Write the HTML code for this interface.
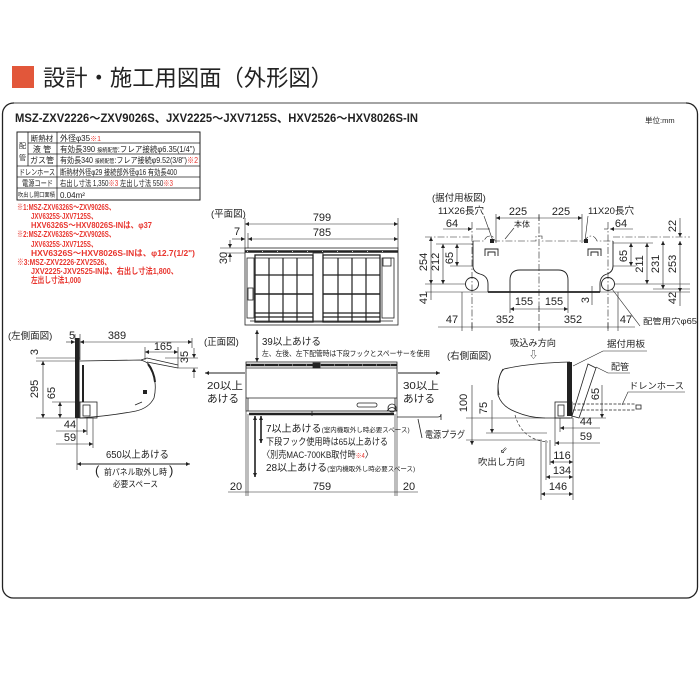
<!DOCTYPE html>
<html><head><meta charset="utf-8">
<style>
html,body{margin:0;padding:0;background:#fff;}
svg{display:block;}
text{font-family:"Liberation Sans","Noto Sans CJK JP",sans-serif;fill:#222;}
.n{font-family:"Liberation Sans Narrow","Liberation Sans","Noto Sans CJK JP",sans-serif;font-size:11px;}
.r{fill:#e8352e;}
</style></head><body>
<svg width="700" height="700" viewBox="0 0 700 700" xmlns="http://www.w3.org/2000/svg">
<defs>
<marker id="a" viewBox="0 0 10 10" refX="10" refY="5" markerUnits="userSpaceOnUse" markerWidth="5" markerHeight="4" orient="auto-start-reverse"><path d="M0 0 L10 5 L0 10z" fill="#222"/></marker>
</defs>

<!-- Title -->
<rect x="12" y="66" width="22" height="22" fill="#e2573a"/>
<text x="43" y="86" font-size="22.5" textLength="290" lengthAdjust="spacingAndGlyphs">設計・施工用図面（外形図）</text>

<!-- Frame -->
<rect x="2.5" y="103" width="695" height="495" rx="11" fill="none" stroke="#222" stroke-width="1.3"/>
<line x1="14" y1="103" x2="686" y2="103" stroke="#999" stroke-width="1.6"/>

<text x="15" y="122" font-size="11.5" font-weight="bold" textLength="403" lengthAdjust="spacingAndGlyphs">MSZ-ZXV2226～ZXV9026S、JXV2225～JXV7125S、HXV2526～HXV8026S-IN</text>
<text x="645" y="123" font-size="7.5" fill="#666">単位:mm</text>

<!-- Spec table -->
<g stroke="#222" fill="none" stroke-width="0.8">
<rect x="17" y="132" width="183" height="68" stroke-width="1"/>
<line x1="28" y1="132" x2="28" y2="166"/>
<line x1="57" y1="132" x2="57" y2="200"/>
<line x1="28" y1="143" x2="200" y2="143"/>
<line x1="28" y1="154" x2="200" y2="154"/>
<line x1="17" y1="166" x2="200" y2="166"/>
<line x1="17" y1="177" x2="200" y2="177"/>
<line x1="17" y1="188" x2="200" y2="188"/>
</g>
<g font-size="8">
<text x="19" y="148" font-size="7">配</text>
<text x="19" y="160" font-size="7">管</text>
<text x="42" y="141" text-anchor="middle" font-size="7.5">断熱材</text>
<text x="42" y="152" text-anchor="middle">液 管</text>
<text x="42" y="163" text-anchor="middle">ガス管</text>
<text x="19" y="175" textLength="36" lengthAdjust="spacingAndGlyphs">ドレンホース</text>
<text x="22" y="186" textLength="31" lengthAdjust="spacingAndGlyphs">電源コード</text>
<text x="18" y="197" font-size="6" textLength="37" lengthAdjust="spacingAndGlyphs">吹出し開口面積</text>
<text x="60" y="141">外径φ35<tspan class="r" font-size="7">※1</tspan></text>
<text x="60" y="152" textLength="135" lengthAdjust="spacingAndGlyphs">有効長390 <tspan font-size="5.5">接続配管</tspan>:フレア接続φ6.35(1/4")</text>
<text x="60" y="163" textLength="138" lengthAdjust="spacingAndGlyphs">有効長340 <tspan font-size="5.5">接続配管</tspan>:フレア接続φ9.52(3/8")<tspan class="r">※2</tspan></text>
<text x="60" y="175" textLength="117" lengthAdjust="spacingAndGlyphs">断熱材外径φ29 接続部外径φ16 有効長400</text>
<text x="60" y="186" textLength="113" lengthAdjust="spacingAndGlyphs">右出し寸法 1,350<tspan class="r">※3</tspan> 左出し寸法 550<tspan class="r">※3</tspan></text>
<text x="60" y="198">0.04m²</text>
</g>
<!-- Notes -->
<g font-size="8.5" font-weight="bold" class="r">
<text class="r" x="17" y="210" textLength="98" lengthAdjust="spacingAndGlyphs">※1:MSZ-ZXV6326S～ZXV9026S、</text>
<text class="r" x="31" y="219" textLength="66" lengthAdjust="spacingAndGlyphs">JXV6325S·JXV7125S、</text>
<text class="r" x="31" y="228" textLength="121" lengthAdjust="spacingAndGlyphs">HXV6326S～HXV8026S-INは、φ37</text>
<text class="r" x="17" y="237" textLength="98" lengthAdjust="spacingAndGlyphs">※2:MSZ-ZXV6326S～ZXV9026S、</text>
<text class="r" x="31" y="247" textLength="66" lengthAdjust="spacingAndGlyphs">JXV6325S·JXV7125S、</text>
<text class="r" x="31" y="256" textLength="164" lengthAdjust="spacingAndGlyphs">HXV6326S～HXV8026S-INは、φ12.7(1/2")</text>
<text class="r" x="17" y="265" textLength="94" lengthAdjust="spacingAndGlyphs">※3:MSZ-ZXV2226·ZXV2526、</text>
<text class="r" x="31" y="274" textLength="147" lengthAdjust="spacingAndGlyphs">JXV2225·JXV2525-INは、右出し寸法1,800、</text>
<text class="r" x="31" y="283" textLength="50" lengthAdjust="spacingAndGlyphs">左出し寸法1,000</text>
</g>

<!-- ================= Plan view ================= -->
<text x="211" y="217" font-size="9.5">(平面図)</text>
<g stroke="#222" stroke-width="0.6" fill="none">
<line x1="245" y1="218" x2="245" y2="248"/>
<line x1="398" y1="218" x2="398" y2="248"/>
<line x1="245" y1="224" x2="398" y2="224" marker-start="url(#a)" marker-end="url(#a)"/>
<line x1="248" y1="233" x2="248" y2="248"/>
<line x1="248" y1="239" x2="398" y2="239" marker-start="url(#a)" marker-end="url(#a)"/>
<line x1="232" y1="239" x2="245" y2="239" marker-end="url(#a)"/>
<line x1="220" y1="248" x2="245" y2="248"/>
<line x1="220" y1="253" x2="245" y2="253"/>
<line x1="230" y1="240" x2="230" y2="248" marker-end="url(#a)"/>
<line x1="230" y1="262" x2="230" y2="253" marker-end="url(#a)"/>
</g>
<text class="n" x="322" y="221" text-anchor="middle" font-size="12">799</text>
<text class="n" x="322" y="236" text-anchor="middle" font-size="12">785</text>
<text class="n" x="237" y="235" text-anchor="middle" font-size="12">7</text>
<text class="n" transform="translate(227,258) rotate(-90)" text-anchor="middle" font-size="12">30</text>
<g stroke="#222" fill="none" stroke-width="0.8">
<rect x="245" y="248" width="153" height="77"/>
<line x1="245" y1="251.5" x2="398" y2="251.5" stroke-width="2.5"/>
<line x1="247" y1="251.5" x2="396" y2="251.5" stroke="#fff" stroke-width="0.8" stroke-dasharray="1 14"/>
<line x1="250" y1="321" x2="393" y2="321"/>
<rect x="247" y="258" width="7" height="60"/>
<rect x="248" y="288" width="5" height="12"/>
<rect x="255" y="255" width="58" height="67" stroke-width="1.3"/>
<rect x="323" y="255" width="57" height="67" stroke-width="1.3"/>
<rect x="313" y="253" width="10" height="69"/>
<rect x="382" y="258" width="12" height="60"/>
<rect x="383" y="258" width="8" height="8"/>
<g stroke-width="1.2">
<line x1="269" y1="258" x2="269" y2="322"/><line x1="283" y1="258" x2="283" y2="322"/><line x1="297" y1="258" x2="297" y2="322"/>
<line x1="338" y1="258" x2="338" y2="322"/><line x1="352" y1="258" x2="352" y2="322"/><line x1="366" y1="258" x2="366" y2="322"/>
<line x1="255" y1="275" x2="313" y2="275"/><line x1="323" y1="275" x2="380" y2="275"/>
<line x1="255" y1="294" x2="313" y2="294" stroke-width="1.6"/><line x1="323" y1="294" x2="380" y2="294" stroke-width="1.6"/>
<line x1="255" y1="313" x2="313" y2="313"/><line x1="323" y1="313" x2="380" y2="313"/>
<line x1="255" y1="317" x2="313" y2="317"/><line x1="323" y1="317" x2="380" y2="317"/>
</g>
<line x1="255" y1="258" x2="313" y2="258"/><line x1="323" y1="258" x2="380" y2="258"/>
</g>

<!-- ================= Mounting plate ================= -->
<text x="432" y="201" font-size="9.5">(据付用板図)</text>
<text x="438" y="214" font-size="9.5" textLength="46" lengthAdjust="spacingAndGlyphs">11X26長穴</text>
<text x="588" y="214" font-size="9.5" textLength="46" lengthAdjust="spacingAndGlyphs">11X20長穴</text>
<text class="n" x="518" y="215" text-anchor="middle" font-size="12">225</text>
<text class="n" x="561" y="215" text-anchor="middle" font-size="12">225</text>
<text class="n" x="452" y="227" text-anchor="middle" font-size="12">64</text>
<text class="n" x="621" y="227" text-anchor="middle" font-size="12">64</text>
<text x="514" y="227" font-size="8">本体</text>
<g stroke="#222" stroke-width="0.6" fill="none">
<g stroke-dasharray="7 2 1.5 2">
<line x1="539" y1="214" x2="539" y2="330"/>
<line x1="472" y1="222" x2="472" y2="330"/>
<line x1="608" y1="222" x2="608" y2="330"/>
<line x1="425" y1="237" x2="473" y2="237"/>
<line x1="613" y1="237" x2="690" y2="237"/>
<path d="M473 241 L484 241 Q486 236 490 236 Q494 236 495 241 L536 241 L536 236 L542 236 L542 241 L585 241 Q587 236 591 236 Q595 236 597 241 L613 241"/>
</g>
<line x1="496" y1="214" x2="496" y2="243"/>
<line x1="582" y1="214" x2="582" y2="243"/>
<line x1="496" y1="218" x2="582" y2="218" marker-start="url(#a)" marker-end="url(#a)"/>
<line x1="539" y1="215" x2="539" y2="221"/>
<line x1="443" y1="229" x2="472" y2="229" marker-end="url(#a)"/>
<line x1="476" y1="229" x2="490" y2="229"/>
<line x1="604" y1="229" x2="608" y2="229"/>
<line x1="633" y1="229" x2="610" y2="229" marker-end="url(#a)"/>
<line x1="484" y1="216" x2="493" y2="241"/>
<line x1="588" y1="216" x2="585" y2="241"/>
<line x1="514" y1="228" x2="505" y2="239"/>
<line x1="436" y1="244" x2="473" y2="244"/>
<line x1="613" y1="243" x2="653" y2="243"/>
<line x1="450" y1="266" x2="473" y2="266"/>
<line x1="613" y1="266" x2="636" y2="266"/>
<line x1="425" y1="284" x2="466" y2="284"/>
<line x1="614" y1="284" x2="690" y2="284"/>
<line x1="425" y1="292" x2="488" y2="292"/>
<line x1="600" y1="292" x2="690" y2="292"/>
<line x1="653" y1="289" x2="690" y2="289"/>
<line x1="431" y1="237" x2="431" y2="284" marker-start="url(#a)" marker-end="url(#a)"/>
<line x1="443" y1="244" x2="443" y2="284" marker-start="url(#a)" marker-end="url(#a)"/>
<line x1="457" y1="244" x2="457" y2="266" marker-start="url(#a)" marker-end="url(#a)"/>
<line x1="431" y1="284" x2="431" y2="300"/>
<line x1="631" y1="243" x2="631" y2="266" marker-start="url(#a)" marker-end="url(#a)"/>
<line x1="647" y1="243" x2="647" y2="284" marker-start="url(#a)" marker-end="url(#a)"/>
<line x1="663" y1="241" x2="663" y2="289" marker-start="url(#a)" marker-end="url(#a)"/>
<line x1="680" y1="241" x2="680" y2="292" marker-start="url(#a)" marker-end="url(#a)"/>
<line x1="680" y1="218" x2="680" y2="237" marker-end="url(#a)"/>
<line x1="680" y1="292" x2="680" y2="306"/>
<line x1="592" y1="286" x2="592" y2="305"/>
<line x1="510" y1="292" x2="510" y2="313"/>
<line x1="568" y1="292" x2="568" y2="313"/>
<line x1="510" y1="309" x2="568" y2="309" marker-start="url(#a)" marker-end="url(#a)"/>
<line x1="539" y1="306" x2="539" y2="312"/>
<line x1="462" y1="292" x2="462" y2="331"/>
<line x1="618" y1="292" x2="618" y2="331"/>
<line x1="438" y1="327" x2="635" y2="327"/>
<line x1="472" y1="323" x2="472" y2="331"/>
<line x1="539" y1="323" x2="539" y2="331"/>
<line x1="608" y1="323" x2="608" y2="331"/>
<line x1="612" y1="289" x2="640" y2="326"/>
</g>
<g stroke="#222" fill="none" stroke-width="0.9">
<path d="M473 241 L473 266 Q473 272 480 274 Q488 276 488 284 L488 292 M600 292 L600 284 Q600 276 607 274 Q613 272 613 266 L613 241"/>
<path d="M510 292 L510 280 Q510 270 520 270 L558 270 Q568 270 568 280 L568 292"/>
<path d="M485 256 L485 249 L498 249 L498 256 M488 256 L488 252 L495 252 L495 256"/>
<path d="M588 256 L588 249 L601 249 L601 256 M591 256 L591 252 L598 252 L598 256"/>
<circle cx="472" cy="284" r="6.5"/>
<circle cx="608" cy="284" r="6.5"/>
</g>
<line x1="488" y1="292" x2="600" y2="292" stroke="#222" stroke-width="1.8"/>
<rect x="490" y="239" width="4" height="4" fill="#222"/>
<rect x="584" y="239" width="4" height="4" fill="#222"/>
<g class="n" font-size="12" text-anchor="middle">
<text class="n" transform="translate(427,262) rotate(-90)" text-anchor="middle">254</text>
<text class="n" transform="translate(439,262) rotate(-90)" text-anchor="middle">212</text>
<text class="n" transform="translate(453,258) rotate(-90)" text-anchor="middle">65</text>
<text class="n" transform="translate(427,298) rotate(-90)" text-anchor="middle">41</text>
<text class="n" transform="translate(627,256) rotate(-90)" text-anchor="middle">65</text>
<text class="n" transform="translate(643,264) rotate(-90)" text-anchor="middle">211</text>
<text class="n" transform="translate(659,264) rotate(-90)" text-anchor="middle">231</text>
<text class="n" transform="translate(676,264) rotate(-90)" text-anchor="middle">253</text>
<text class="n" transform="translate(676,226) rotate(-90)" text-anchor="middle">22</text>
<text class="n" transform="translate(676,298) rotate(-90)" text-anchor="middle">42</text>
<text class="n" transform="translate(589,300) rotate(-90)" text-anchor="middle">3</text>
<text class="n" x="524" y="305" text-anchor="middle">155</text>
<text class="n" x="554" y="305" text-anchor="middle">155</text>
<text class="n" x="452" y="323" text-anchor="middle">47</text>
<text class="n" x="505" y="323" text-anchor="middle">352</text>
<text class="n" x="573" y="323" text-anchor="middle">352</text>
<text class="n" x="626" y="323" text-anchor="middle">47</text>
</g>
<text x="643" y="324" font-size="8" textLength="54" lengthAdjust="spacingAndGlyphs">配管用穴φ65</text>

<!-- ================= Left side view ================= -->
<text x="8" y="339" font-size="9.5">(左側面図)</text>
<g class="n" font-size="12">
<text class="n" x="72" y="339" text-anchor="middle">5</text>
<text class="n" x="117" y="339" text-anchor="middle">389</text>
<text class="n" x="163" y="350" text-anchor="middle">165</text>
<text class="n" transform="translate(188,357) rotate(-90)" text-anchor="middle">35</text>
<text class="n" transform="translate(38,352) rotate(-90)" text-anchor="middle">3</text>
<text class="n" transform="translate(38,389) rotate(-90)" text-anchor="middle">295</text>
<text class="n" transform="translate(55,393) rotate(-90)" text-anchor="middle">65</text>
<text class="n" x="70" y="428" text-anchor="middle">44</text>
<text class="n" x="70" y="441" text-anchor="middle">59</text>
</g>
<g stroke="#222" stroke-width="0.6" fill="none">
<line x1="75" y1="334" x2="75" y2="340"/>
<line x1="80" y1="334" x2="80" y2="360"/>
<line x1="66" y1="342" x2="75" y2="342" marker-end="url(#a)"/>
<line x1="80" y1="342" x2="192" y2="342" marker-start="url(#a)" marker-end="url(#a)"/>
<line x1="192" y1="338" x2="192" y2="348"/>
<line x1="145" y1="347" x2="145" y2="360"/>
<line x1="178" y1="347" x2="178" y2="368"/>
<line x1="145" y1="352" x2="178" y2="352" marker-start="url(#a)" marker-end="url(#a)"/>
<line x1="165" y1="358" x2="198" y2="358"/>
<line x1="178" y1="368" x2="198" y2="368"/>
<line x1="194" y1="348" x2="194" y2="358" marker-end="url(#a)"/>
<line x1="194" y1="378" x2="194" y2="368" marker-end="url(#a)"/>
<line x1="36" y1="358" x2="80" y2="358"/>
<line x1="36" y1="361" x2="80" y2="361"/>
<line x1="43" y1="361" x2="43" y2="418" marker-start="url(#a)" marker-end="url(#a)"/>
<line x1="36" y1="418" x2="80" y2="418"/>
<line x1="52" y1="402" x2="80" y2="402"/>
<line x1="60" y1="402" x2="60" y2="418" marker-start="url(#a)" marker-end="url(#a)"/>
<line x1="56" y1="431" x2="87" y2="431" marker-end="url(#a)"/>
<line x1="56" y1="444" x2="93" y2="444" marker-end="url(#a)"/>
<line x1="87" y1="418" x2="87" y2="435"/>
<line x1="93" y1="418" x2="93" y2="448"/>
<line x1="77" y1="418" x2="77" y2="470"/>
<line x1="77" y1="464" x2="190" y2="464" stroke-width="0.9" marker-start="url(#a)" marker-end="url(#a)"/>
</g>
<rect x="75" y="338" width="4.5" height="80" fill="#222"/>
<g stroke="#222" fill="none" stroke-width="0.8">
<path d="M80 361 L140 360 Q151 362 153 373 Q157 386 154 398 Q149 408 136 411 Q110 416 80 418"/>
<path d="M141 360 L147 358 L178 365 M147 362 L178 368"/>
<path d="M148 364 Q154 372 155 382" stroke-width="2"/>
<line x1="83" y1="365" x2="83" y2="402" stroke-width="2"/>
<rect x="80" y="402" width="17" height="16"/>
<rect x="83" y="405" width="7" height="11"/>
<line x1="135" y1="405" x2="142" y2="402"/>
</g>
<rect x="143" y="390" width="4" height="4" fill="#222"/>
<text x="106" y="458" font-size="10" textLength="63" lengthAdjust="spacingAndGlyphs">650以上あける</text>
<text x="95" y="475" font-size="13" fill="#444">(</text>
<text x="169" y="475" font-size="13" fill="#444">)</text>
<text x="104" y="475" font-size="8.5" textLength="63" lengthAdjust="spacingAndGlyphs">前パネル取外し時</text>
<text x="113" y="487" font-size="8.5" textLength="45" lengthAdjust="spacingAndGlyphs">必要スペース</text>

<!-- ================= Front view ================= -->
<text x="204" y="345" font-size="9.5">(正面図)</text>
<g stroke="#222" stroke-width="0.9" fill="none">
<line x1="257" y1="330" x2="257" y2="362" marker-start="url(#a)" marker-end="url(#a)"/>
<line x1="205" y1="373" x2="245" y2="373" marker-start="url(#a)"/>
<line x1="398" y1="373" x2="440" y2="373" marker-end="url(#a)"/>
</g>
<text x="262" y="345" font-size="10" textLength="59" lengthAdjust="spacingAndGlyphs">39以上あける</text>
<text x="262" y="356" font-size="7.5" textLength="168" lengthAdjust="spacingAndGlyphs">左、左後、左下配管時は下段フックとスペーサーを使用</text>
<text x="207" y="389" font-size="10.5" textLength="36" lengthAdjust="spacingAndGlyphs">20以上</text>
<text x="207" y="402" font-size="10.5" textLength="32" lengthAdjust="spacingAndGlyphs">あける</text>
<text x="403" y="389" font-size="10.5" textLength="36" lengthAdjust="spacingAndGlyphs">30以上</text>
<text x="403" y="402" font-size="10.5" textLength="32" lengthAdjust="spacingAndGlyphs">あける</text>
<g stroke="#222" fill="none" stroke-width="0.8">
<rect x="246" y="362" width="151" height="49"/>
<line x1="246" y1="365" x2="397" y2="365" stroke-width="2.5"/>
<line x1="250" y1="365" x2="395" y2="365" stroke="#fff" stroke-width="0.8" stroke-dasharray="1 13"/>
<line x1="246" y1="368" x2="397" y2="368"/>
<rect x="313" y="363" width="7" height="5" fill="#222"/>
<line x1="246" y1="398" x2="397" y2="398"/>
<line x1="248" y1="398" x2="248" y2="411"/>
<line x1="395" y1="398" x2="395" y2="411"/>
<line x1="249" y1="414" x2="394" y2="414" stroke-width="2.5"/>
<line x1="312" y1="411" x2="312" y2="416"/>
<rect x="357" y="403" width="20" height="4" rx="2"/>
<circle cx="392" cy="408" r="4"/>
<path d="M387 411 Q392 404 397 411"/>
<path d="M397 417 L438 417 Q441 417 441 414 L441 420"/>
<line x1="418" y1="419" x2="422" y2="438"/>
</g>
<text x="425" y="438" font-size="9.5" textLength="40" lengthAdjust="spacingAndGlyphs">電源プラグ</text>
<g stroke="#222" stroke-width="0.6" fill="none">
<line x1="246" y1="411" x2="246" y2="496"/>
<line x1="248" y1="414" x2="248" y2="496"/>
<line x1="395" y1="414" x2="395" y2="496"/>
<line x1="397" y1="411" x2="397" y2="496"/>
<line x1="228" y1="492" x2="418" y2="492"/>
</g>
<g stroke="#222" stroke-width="1.6" fill="none">
<line x1="255" y1="416" x2="255" y2="477" marker-start="url(#a)" marker-end="url(#a)"/>
<line x1="261" y1="416" x2="261" y2="443" marker-start="url(#a)" marker-end="url(#a)"/>
</g>
<text x="266" y="432" font-size="10">7以上あける<tspan font-size="6.5">(室内機取外し時必要スペース)</tspan></text>
<text x="266" y="445" font-size="9.5" textLength="122" lengthAdjust="spacingAndGlyphs">下段フック使用時は65以上あける</text>
<text x="262" y="458" font-size="9.5" textLength="111" lengthAdjust="spacingAndGlyphs">〈別売MAC-700KB取付時<tspan class="r" font-size="7">※4</tspan>〉</text>
<text x="266" y="471" font-size="10">28以上あける<tspan font-size="6.5">(室内機取外し時必要スペース)</tspan></text>
<g font-size="12">
<text class="n" x="236" y="490" text-anchor="middle" font-size="12">20</text>
<text class="n" x="322" y="490" text-anchor="middle" font-size="12">759</text>
<text class="n" x="409" y="490" text-anchor="middle" font-size="12">20</text>
</g>

<!-- ================= Right side view ================= -->
<text x="510" y="346" font-size="9" textLength="46" lengthAdjust="spacingAndGlyphs">吸込み方向</text>
<text x="529" y="358" font-size="9">⇩</text>
<text x="447" y="359" font-size="9.5">(右側面図)</text>
<text x="607" y="347" font-size="9" textLength="38" lengthAdjust="spacingAndGlyphs">据付用板</text>
<text x="611" y="370" font-size="9">配管</text>
<text x="629" y="389" font-size="9" textLength="55" lengthAdjust="spacingAndGlyphs">ドレンホース</text>
<g stroke="#222" stroke-width="0.6" fill="none">
<path d="M647 351 L603 351 L573 366"/>
<path d="M630 373 L608 373 L596 367"/>
<path d="M685 392 L628 392 L622 405"/>
</g>
<g stroke="#222" fill="none" stroke-width="0.8">
<path d="M570 362 Q530 363 504 369 Q497 375 498 395 Q502 407 516 412 Q530 418 545 418 L570 418"/>
<path d="M503 369 Q496 380 499 395"/>
<path d="M588 364 L596 368 L579 418 L572 416 Z"/>
<rect x="555" y="402" width="17" height="16"/>
<rect x="558" y="405" width="6" height="11"/>
<path d="M515 415 Q522 440 548 442" stroke-dasharray="3 2" stroke-width="0.6"/>
<line x1="573" y1="404" x2="636" y2="404" stroke-dasharray="3 1.5"/>
<line x1="573" y1="410" x2="636" y2="410" stroke-dasharray="3 1.5"/>
<rect x="636" y="405" width="5" height="4"/>
</g>
<rect x="567" y="362" width="5" height="54" fill="#222"/>
<g stroke="#222" stroke-width="0.6" fill="none">
<line x1="466" y1="418" x2="545" y2="418"/>
<line x1="486" y1="433" x2="547" y2="433"/>
<line x1="466" y1="440" x2="542" y2="440"/>
<line x1="472" y1="385" x2="472" y2="445" marker-end="url(#a)"/>
<line x1="492" y1="400" x2="492" y2="433" marker-end="url(#a)"/>
<line x1="580" y1="418" x2="606" y2="418"/>
<line x1="602" y1="385" x2="602" y2="418" marker-end="url(#a)"/>
<line x1="560" y1="428" x2="600" y2="428" marker-start="url(#a)"/>
<line x1="555" y1="443" x2="600" y2="443" marker-start="url(#a)"/>
<line x1="573" y1="418" x2="573" y2="500"/>
<line x1="560" y1="418" x2="560" y2="432"/>
<line x1="555" y1="418" x2="555" y2="446"/>
<line x1="550" y1="440" x2="550" y2="465"/>
<line x1="546" y1="440" x2="546" y2="480"/>
<line x1="541" y1="440" x2="541" y2="500"/>
<line x1="550" y1="462" x2="573" y2="462" marker-start="url(#a)" marker-end="url(#a)"/>
<line x1="546" y1="477" x2="573" y2="477" marker-start="url(#a)" marker-end="url(#a)"/>
<line x1="541" y1="494" x2="573" y2="494" marker-start="url(#a)" marker-end="url(#a)"/>
</g>
<g font-size="12">
<text class="n" transform="translate(467,403) rotate(-90)" text-anchor="middle" font-size="12">100</text>
<text class="n" transform="translate(487,408) rotate(-90)" text-anchor="middle" font-size="12">75</text>
<text class="n" transform="translate(599,394) rotate(-90)" text-anchor="middle" font-size="12">65</text>
<text class="n" x="586" y="425" text-anchor="middle" font-size="12">44</text>
<text class="n" x="586" y="440" text-anchor="middle" font-size="12">59</text>
<text class="n" x="562" y="459" text-anchor="middle" font-size="12">116</text>
<text class="n" x="562" y="474" text-anchor="middle" font-size="12">134</text>
<text class="n" x="558" y="490" text-anchor="middle" font-size="12">146</text>
</g>
<text x="500" y="453" font-size="9">⇙</text>
<text x="478" y="465" font-size="9" textLength="47" lengthAdjust="spacingAndGlyphs">吹出し方向</text>
</svg>
</body></html>
